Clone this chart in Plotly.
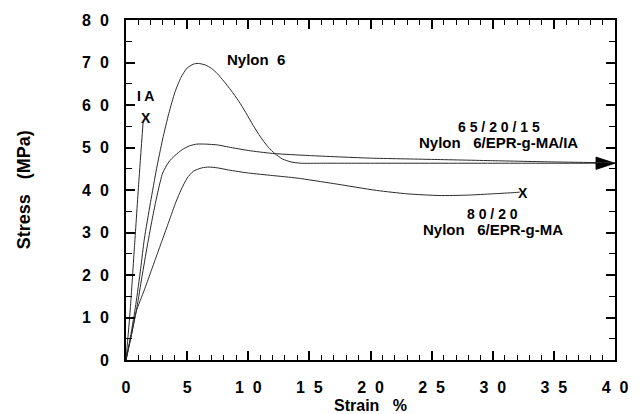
import plotly.graph_objects as go

# Stress-strain curves (strain %, stress MPa)
nylon6_strain = [0, 0.4, 0.8, 1.2, 1.5, 2.0, 2.5, 3.0, 3.5, 4.0, 4.5, 5.0, 5.5, 5.9, 6.5, 7.0,
                 7.5, 8.0, 8.6, 9.2, 9.8, 10.4, 11.0, 11.6, 12.2, 12.8, 13.5, 14.3, 16, 20, 30, 40]
nylon6_stress = [0, 6, 13, 21.5, 28.5, 37, 45, 52, 58, 63, 66.5, 68.7, 69.6, 69.8, 69.4, 68.6,
                 67.3, 65.6, 63.4, 61.0, 58.2, 55.2, 52.5, 50.2, 48.5, 47.3, 46.6, 46.3, 46.3, 46.3, 46.3, 46.3]

blend_ia_strain = [0, 0.45, 0.9, 1.3, 1.75, 2.2, 2.6, 3.0, 3.5, 4.0, 4.6, 5.2, 5.8, 6.5, 7.5,
                   8.4, 10, 12, 15, 20, 25, 30, 35, 40]
blend_ia_stress = [0, 6, 12.5, 19.5, 27, 34, 39.5, 44, 46.6, 48.1, 49.5, 50.4, 50.8, 50.8, 50.6,
                   50.1, 49.3, 48.6, 48.1, 47.5, 47.2, 46.9, 46.6, 46.4]

blend_strain = [0, 0.45, 0.85, 1.5, 2.0, 2.5, 3.0, 3.5, 4.1, 4.5, 5.0, 5.5, 6.2, 6.8, 7.5, 8.4,
                10, 12, 14, 17, 20.5, 23, 25.6, 28, 30, 31.8, 32.2]
blend_stress = [0, 6, 11.5, 16.5, 20.5, 24.5, 28.5, 32.5, 37.3, 40, 42.8, 44.4, 45.2, 45.4, 45.2, 44.7,
                44.0, 43.4, 42.8, 41.5, 39.9, 39.1, 38.7, 38.8, 39.1, 39.4, 39.5]

ia_strain = [0, 0.35, 0.7, 1.05, 1.4]
ia_stress = [0, 12, 27, 42, 56]

x_tickvals = [0, 5, 10, 15, 20, 25, 30, 35, 40]
x_ticktext = ["0", "5", "1  0", "1  5", "2  0", "2  5", "3  0", "3  5", "4  0"]
y_tickvals = [0, 10, 20, 30, 40, 50, 60, 70, 80]
y_ticktext = ["0", "1  0", "2  0", "3  0", "4  0", "5  0", "6  0", "7  0", "8  0"]

FONT = "Liberation Sans, Arial, sans-serif"
LINE = dict(color="#2a2a2a", width=1, shape="spline", smoothing=0.6)

fig = go.Figure()
# Nylon 6 ends in a filled arrowhead at the right border
fig.add_trace(go.Scatter(x=nylon6_strain, y=nylon6_stress, mode="lines+markers", line=LINE,
                         marker=dict(symbol="arrow", angleref="previous", color="black", opacity=1,
                                     size=[0] * (len(nylon6_strain) - 1) + [20],
                                     line=dict(width=0.8, color="black")),
                         hoverinfo="skip"))
fig.add_trace(go.Scatter(x=blend_ia_strain, y=blend_ia_stress, mode="lines", line=LINE, hoverinfo="skip"))
fig.add_trace(go.Scatter(x=blend_strain, y=blend_stress, mode="lines", line=LINE, hoverinfo="skip"))
fig.add_trace(go.Scatter(x=ia_strain, y=ia_stress, mode="lines", line=LINE, hoverinfo="skip"))

def label(x, y, text, size=14):
    fig.add_annotation(x=x, y=y, text=text, showarrow=False, xanchor="center", yanchor="middle",
                       font=dict(family=FONT, size=size, color="black", weight="bold"))

label(10.6, 70.6, "Nylon  6", 15)
label(1.6, 62.1, "I A")
label(1.6, 57.0, "X")
label(30.5, 54.8, "6 5 / 2 0 / 1 5")
label(30.5, 51.1, "Nylon   6/EPR-g-MA/IA", 15)
label(32.5, 39.3, "X")
label(30.0, 34.3, "8 0 / 2 0")
label(30.0, 30.8, "Nylon   6/EPR-g-MA", 15)

axis_common = dict(
    showline=True, linecolor="black", linewidth=2, mirror="ticks", showgrid=False, zeroline=False,
    ticks="inside", tickcolor="black", tickwidth=1.5,
    tickfont=dict(family=FONT, size=16, color="black", weight="bold"),
)
fig.update_xaxes(range=[0, 40], tickvals=x_tickvals, ticktext=x_ticktext, ticklen=9,
                 ticklabelstandoff=12,
                 minor=dict(dtick=1, ticks="inside", ticklen=5, tickwidth=1, tickcolor="black", showgrid=False),
                 **axis_common)
fig.update_yaxes(range=[0, 80], tickvals=y_tickvals, ticktext=y_ticktext, ticklen=9,
                 ticklabelstandoff=12,
                 minor=dict(dtick=5, ticks="inside", ticklen=6, tickwidth=1, tickcolor="black", showgrid=False),
                 **axis_common)

fig.add_annotation(xref="paper", yref="paper", x=0.5, y=-0.135, text="Strain   %", showarrow=False,
                   xanchor="center", yanchor="middle",
                   font=dict(family=FONT, size=16, color="black", weight="bold"))
fig.add_annotation(xref="paper", yref="paper", x=-0.208, y=0.5, text="Stress   (MPa)", showarrow=False,
                   textangle=-90, xanchor="center", yanchor="middle",
                   font=dict(family=FONT, size=18, color="black", weight="bold"))

fig.update_layout(width=640, height=414, margin=dict(l=126, r=18, t=20, b=54),
                  plot_bgcolor="white", paper_bgcolor="white", showlegend=False)

fig.write_html("out.html")
